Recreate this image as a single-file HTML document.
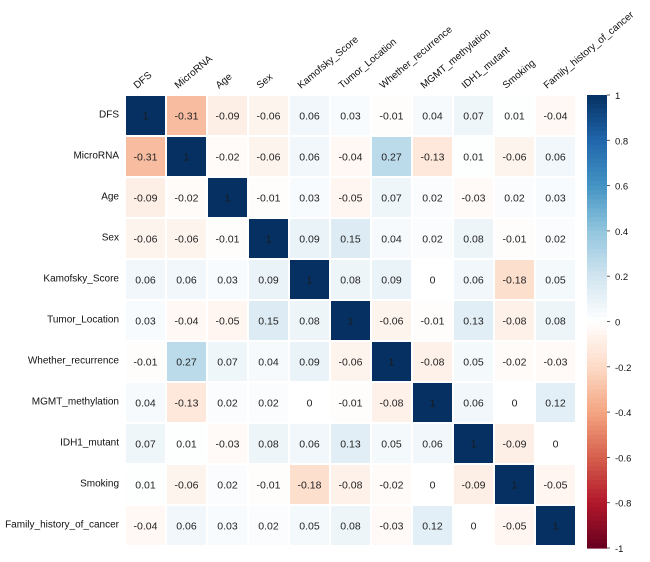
<!DOCTYPE html>
<html><head><meta charset="utf-8"><style>
body{margin:0;background:#fff;width:650px;height:557px;overflow:hidden}
svg text{font-family:"Liberation Sans",Arial,sans-serif}
</style></head><body>
<svg id="c" width="650" height="557"></svg>
<script>
const variables=["DFS","MicroRNA","Age","Sex","Kamofsky_Score","Tumor_Location","Whether_recurrence","MGMT_methylation","IDH1_mutant","Smoking","Family_history_of_cancer"];
const colLabels=["DFS","MicroRNA","Age","Sex","Kamofsky_Score","Tumor_Location","Whether_recurrence","MGMT_methylation","IDH1_mutant","Smoking","Family_history_of_cancer"];
const r0=[1,-0.31,-0.09,-0.06,0.06,0.03,-0.01,0.04,0.07,0.01,-0.04];
const r1=[-0.31,1,-0.02,-0.06,0.06,-0.04,0.27,-0.13,0.01,-0.06,0.06];
const r2=[-0.09,-0.02,1,-0.01,0.03,-0.05,0.07,0.02,-0.03,0.02,0.03];
const r3=[-0.06,-0.06,-0.01,1,0.09,0.15,0.04,0.02,0.08,-0.01,0.02];
const r4=[0.06,0.06,0.03,0.09,1,0.08,0.09,0,0.06,-0.18,0.05];
const r5=[0.03,-0.04,-0.05,0.15,0.08,1,-0.06,-0.01,0.13,-0.08,0.08];
const r6=[-0.01,0.27,0.07,0.04,0.09,-0.06,1,-0.08,0.05,-0.02,-0.03];
const r7=[0.04,-0.13,0.02,0.02,0,-0.01,-0.08,1,0.06,0,0.12];
const r8=[0.07,0.01,-0.03,0.08,0.06,0.13,0.05,0.06,1,-0.09,0];
const r9=[0.01,-0.06,0.02,-0.01,-0.18,-0.08,-0.02,0,-0.09,1,-0.05];
const r10=[-0.04,0.06,0.03,0.02,0.05,0.08,-0.03,0.12,0,-0.05,1];
const matrix=[r0,r1,r2,r3,r4,r5,r6,r7,r8,r9,r10];
const legendTicks=[1,0.8,0.6,0.4,0.2,0,-0.2,-0.4,-0.6,-0.8,-1];
const stops=["#67001F","#B2182B","#D6604D","#F4A582","#FDDBC7","#FFFFFF","#D1E5F0","#92C5DE","#4393C3","#2166AC","#053061"];
const NS="http://www.w3.org/2000/svg",svg=document.getElementById('c');
const X0=125,Y0=95,P=41,N=variables.length;
const xPos=i=>X0+i*P, yPos=i=>Y0+i*P;
const cbTop=95,cbBot=548,cbX=587,cbW=20;
const cbY=v=>cbTop+(1-v)/2*(cbBot-cbTop);
function hex(h){return [1,3,5].map(i=>parseInt(h.substr(i,2),16));}
function color(v){const t=(v+1)/2*10;const i=Math.min(9,Math.floor(t));const f=t-i;const a=hex(stops[i]),b=hex(stops[i+1]);return `rgb(${a.map((x,k)=>Math.round(x+(b[k]-x)*f)).join(',')})`;}
function el(tag,at,txt){const e=document.createElementNS(NS,tag);for(const k in at)e.setAttribute(k,at[k]);if(txt!==undefined)e.textContent=txt;svg.appendChild(e);return e;}
for(let r=0;r<N;r++){for(let c=0;c<N;c++){const v=matrix[r][c];
const rc=el('rect',{x:xPos(c)+1,y:yPos(r)+1,width:P-2,height:P-2,fill:color(v)});


const t=el('text',{x:xPos(c)+P/2,y:yPos(r)+P/2+4,'text-anchor':'middle','font-size':10.5,fill:v===1?'#1a1a1a':'#222'},String(v));

}}
variables.forEach((n,i)=>{const t=el('text',{x:X0-6,y:yPos(i)+P/2+2,'text-anchor':'end','font-size':10,fill:'#111'},n);

});
colLabels.forEach((n,i)=>{const x=xPos(i)+12,y=Y0-6;const t=el('text',{x:x,y:y,'font-size':10,fill:'#111',transform:`rotate(-40 ${x} ${y})`},n);

});
for(let k=0;k<100;k++){const v1=1-k*0.02,v2=v1-0.02;const r=el('rect',{x:cbX,y:cbY(v1),width:cbW,height:cbY(v2)-cbY(v1)+0.6,fill:color((v1+v2)/2)});

}
legendTicks.forEach(v=>{const y=cbY(v);el('line',{x1:cbX+cbW,x2:cbX+cbW+3,y1:y,y2:y,stroke:'#333','stroke-width':0.8});
const t=el('text',{x:cbX+cbW+8,y:y+4,'font-size':9.5,fill:'#111'},String(v));

});
</script>
</body></html>
